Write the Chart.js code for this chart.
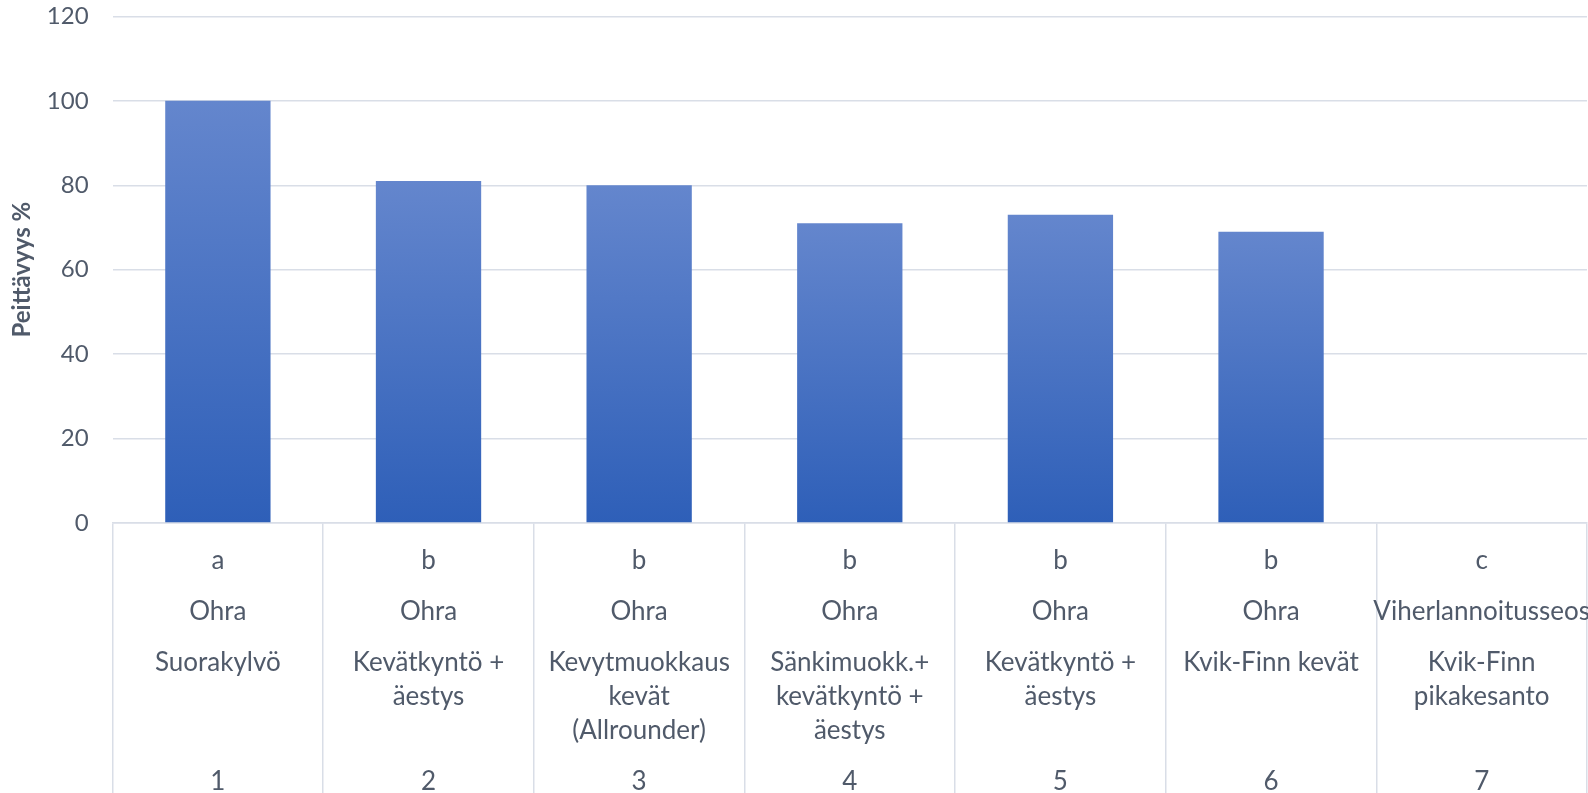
<!DOCTYPE html>
<html>
<head>
<meta charset="utf-8">
<script src="https://cdn.jsdelivr.net/npm/chart.js@4/dist/chart.umd.min.js"></script>
<style>
  html, body { margin: 0; padding: 0; background: #ffffff; }
  #wrap { width: 1588px; height: 793px; }
</style>
</head>
<body>
<div id="wrap"><canvas id="c" width="1588" height="793"></canvas></div>
<script>
// ---- data ----
const groupLetters = ["a", "b", "b", "b", "b", "b", "c"];
const crops = ["Ohra", "Ohra", "Ohra", "Ohra", "Ohra", "Ohra", "Viherlannoitusseos"];
const treatments = [
  ["Suorakylvö"],
  ["Kevätkyntö +", "äestys"],
  ["Kevytmuokkaus", "kevät", "(Allrounder)"],
  ["Sänkimuokk.+", "kevätkyntö +", "äestys"],
  ["Kevätkyntö +", "äestys"],
  ["Kvik-Finn kevät"],
  ["Kvik-Finn", "pikakesanto"]
];
const plotNumbers = ["1", "2", "3", "4", "5", "6", "7"];
const coverage = [100, 81, 80, 71, 73, 69, 0];
const yTicks = [0, 20, 40, 60, 80, 100, 120];
const yTitle = "Peittävyys %";

// build multi-row labels (rows spaced on a 17px line grid)
const labels = groupLetters.map((l, i) => {
  const rows = new Array(14).fill("");
  rows[0] = l;
  rows[3] = crops[i];
  const t = treatments[i];
  for (let k = 0; k < t.length; k++) rows[6 + 2 * k] = t[k];
  rows[13] = plotNumbers[i];
  return rows;
});

const textColor = "#505a6a";
const gridColor = "#d9dee7";
const fontFamily = "Lato, 'Open Sans', sans-serif";

function barGradient(ctx) {
  const chart = ctx.chart;
  if (ctx.type !== "data" || !chart.chartArea) return "#4472c4";
  const ys = chart.scales.y;
  const top = ys.getPixelForValue(ctx.parsed.y);
  const base = ys.getPixelForValue(0);
  if (!(base > top)) return "#4472c4";
  const g = chart.ctx.createLinearGradient(0, top, 0, base);
  g.addColorStop(0, "rgb(100,134,205)");
  g.addColorStop(1, "rgb(46,95,184)");
  return g;
}

new Chart(document.getElementById("c"), {
  type: "bar",
  data: {
    labels: labels,
    datasets: [{
      data: coverage,
      backgroundColor: barGradient,
      borderWidth: 0,
      barPercentage: 0.5,
      categoryPercentage: 1.0
    }]
  },
  options: {
    responsive: false,
    animation: false,
    layout: { padding: { top: 0, right: 1, left: 0, bottom: 0 } },
    plugins: { legend: { display: false }, tooltip: { enabled: false } },
    scales: {
      x: {
        offset: true,
        grid: {
          offset: true,
          drawOnChartArea: false,
          drawTicks: true,
          tickLength: 270,
          color: gridColor,
          lineWidth: 1.5
        },
        border: { display: true, color: gridColor, width: 1.5 },
        ticks: {
          autoSkip: false,
          maxRotation: 0,
          minRotation: 0,
          padding: -241,
          color: textColor,
          font: { family: fontFamily, size: 26, lineHeight: "17px" }
        },
        afterFit: (scale) => { scale.height = 270; }
      },
      y: {
        min: 0,
        max: 120,
        afterBuildTicks: (scale) => { scale.ticks = yTicks.map(v => ({ value: v })); },
        grid: { color: gridColor, lineWidth: 1.5, drawTicks: true, tickLength: 22, tickColor: "rgba(0,0,0,0)" },
        border: { display: false },
        ticks: {
          padding: 2,
          color: textColor,
          font: { family: fontFamily, size: 24 }
        },
        title: {
          display: true,
          text: yTitle,
          color: textColor,
          font: { family: fontFamily, size: 24, weight: "bold" },
          padding: { top: 8, bottom: 8 }
        }
      }
    }
  }
});
</script>
</body>
</html>
